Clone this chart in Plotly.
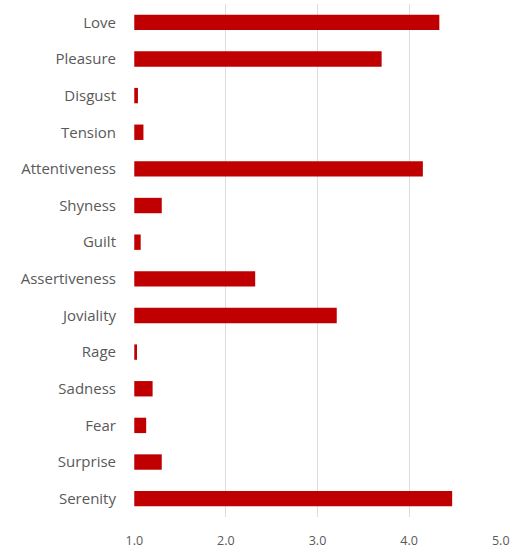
import plotly.graph_objects as go

categories = ["Love", "Pleasure", "Disgust", "Tension", "Attentiveness", "Shyness",
              "Guilt", "Assertiveness", "Joviality", "Rage", "Sadness", "Fear",
              "Surprise", "Serenity"]
values = [4.33, 3.70, 1.04, 1.10, 4.15, 1.30, 1.07, 2.32, 3.21, 1.03, 1.20, 1.13, 1.30, 4.47]
x_ticks = [1.0, 2.0, 3.0, 4.0, 5.0]
baseline = 1.0

fig = go.Figure(go.Bar(
    y=categories,
    x=[v - baseline for v in values],
    base=baseline,
    orientation="h",
    marker=dict(color="#C00000", line=dict(width=0)),
    width=0.42,
))

fig.update_layout(
    width=528, height=554,
    margin=dict(l=134, r=27, t=4, b=37),
    plot_bgcolor="white", paper_bgcolor="white",
    font=dict(family="Open Sans, sans-serif", size=15, color="#595959"),
    showlegend=False,
)
fig.update_xaxes(range=[0.997, 5.003], tickvals=x_ticks, ticktext=[f"{t:.1f}" for t in x_ticks],
                 showgrid=True, gridcolor="#DDDDDD", gridwidth=1, zeroline=False,
                 showline=False, ticks="", ticklen=0, ticklabelstandoff=14,
                 tickfont=dict(size=12.5))
fig.update_yaxes(autorange="reversed", showgrid=False, showline=False, ticks="",
                 ticklabelstandoff=17)

fig.write_html("out.html")
